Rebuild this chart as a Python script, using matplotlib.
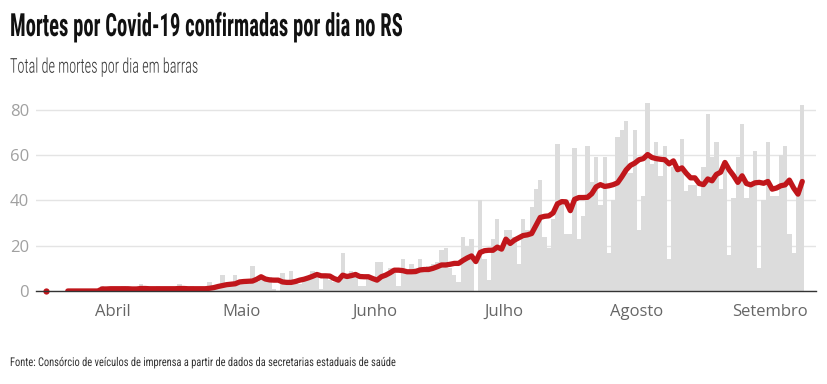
import numpy as np
import pandas as pd
import matplotlib
matplotlib.use("Agg")
import matplotlib.pyplot as plt
import matplotlib.dates as mdates
import matplotlib.font_manager as fm
from matplotlib.patheffects import AbstractPathEffect
from matplotlib.transforms import Affine2D

# ---------------- data ----------------
start_date = "2020-03-16"
daily_deaths = [
    0, 0, 0, 0, 0, 0, 0, 0, 0,
    1, 0, 1, 0, 2, 1, 1,
    1, 0, 2, 1, 0, 1, 3, 1, 0, 1,
    2, 1, 0, 1, 1, 3, 1, 0, 2, 1,
    1, 0, 4, 1, 2, 7, 3, 2, 7, 4,
    5, 3, 11, 4, 6, 5, 6, 1, 0, 8,
    3, 9, 4, 3, 5, 6, 9, 8, 1, 6,
    5, 4, 6, 17, 7, 9, 8, 2, 2, 7,
    6, 13, 13, 6, 10, 8, 2, 14, 9, 12,
    10, 14, 9, 11, 12, 13, 18, 19, 10, 7,
    4, 24, 20, 23, 0, 40, 14, 5, 23, 32,
    18, 27, 27, 24, 12, 32, 27, 37, 45, 49,
    24, 19, 32, 65, 40, 25, 25, 63, 23, 33,
    64, 48, 59, 38, 59, 17, 40, 68, 71, 75,
    52, 71, 27, 42, 83, 56, 66, 51, 64, 14,
    55, 55, 67, 44, 47, 47, 42, 55, 78, 59,
    66, 45, 54, 16, 41, 59, 74, 41, 47, 62,
    10, 40, 66, 42, 42, 60, 64, 25, 17, 43, 82,
]
nan = np.nan
moving_avg = [
    0, nan, nan, nan, nan,
    0, 0, 0, 0, 0, 0, 0, 0,
    0.9, 0.9, 1.0,
    1, 1, 1, 1, 0.9, 0.9, 1.1, 1.1, 1, 1,
    1, 1, 1, 1, 1, 1.1, 1.1, 1, 1, 1,
    1, 1, 1.2,
    1.5, 2.0, 2.4, 2.8, 3.0, 3.2, 4.0,
    4.2, 4.3, 4.4, 5.2, 6.3, 5.3, 4.9, 4.8, 4.8, 4.0,
    3.8, 3.8, 4.2, 4.8, 5.2, 5.8, 6.5, 7.3, 6.7, 6.7,
    6.6, 5.5, 4.8, 7.0, 6.4, 6.8, 7.3, 6.4, 6.3, 6.3,
    5.5, 4.8, 6.3, 7.0, 8.0, 9.2, 9.2, 9.0, 8.5, 8.5,
    8.6, 9.3, 9.5, 9.5, 10.0, 10.7, 11.5, 11.5, 11.8, 12.2,
    12.2, 13.5, 14.6, 15.5, 13.0, 17.0, 17.8, 18.0, 18.0, 19.4,
    18.5, 22.9, 21.0, 22.5, 23.5, 24.5, 24.8, 25.4, 29.0, 32.5,
    33.0, 33.2, 34.5, 38.5, 39.5, 39.4, 35.5, 40.5, 41.3, 41.3,
    41.4, 43.0, 46.0, 47.0, 46.2, 46.5, 47.0, 47.8, 50.5, 53.5,
    55.5, 56.5, 58.0, 58.5, 60.3, 59.0, 58.5, 58.2, 58.0, 56.2,
    57.5, 53.6, 54.4, 52.0, 50.0, 50.0, 47.5, 47.0, 49.5, 48.7,
    51.5, 52.5, 56.8, 53.5, 51.0, 48.0, 50.9, 47.5, 46.9, 47.8,
    48.0, 47.6, 48.4, 45.0, 45.5, 46.5, 46.9, 49.0, 45.5, 42.8, 48.4,
]
month_ticks = ["2020-04-01", "2020-05-01", "2020-06-01", "2020-07-01", "2020-08-01", "2020-09-01"]
month_labels = ["Abril", "Maio", "Junho", "Julho", "Agosto", "Setembro"]
y_ticks = [0, 20, 40, 60, 80]

title = "Mortes por Covid-19 confirmadas por dia no RS"
subtitle = "Total de mortes por dia em barras"
source = "Fonte: Consórcio de veículos de imprensa a partir de dados da secretarias estaduais de saúde"

# ---------------- fonts ----------------
names = {f.name for f in fm.fontManager.ttflist}
def pick(cands, default="DejaVu Sans"):
    for c in cands:
        if c in names:
            return c
    return default

narrow = pick(["Roboto Condensed", "Open Sans Condensed", "Liberation Sans Narrow", "Open Sans"])
regular = pick(["Open Sans", "Noto Sans", "Lato"])
light_weights = {f.weight for f in fm.fontManager.ttflist if f.name == narrow}
light = 300 if any(isinstance(w, int) and w <= 300 for w in light_weights) else "normal"


class Squeeze(AbstractPathEffect):
    """Horizontally condense rendered text about a display x position."""
    def __init__(self, sx, x0):
        super().__init__()
        self.sx = sx
        self.x0 = x0

    def draw_path(self, renderer, gc, tpath, affine, rgbFace=None):
        aff = affine + Affine2D().translate(-self.x0, 0).scale(self.sx, 1).translate(self.x0, 0)
        renderer.draw_path(gc, tpath, aff, rgbFace)


# ---------------- figure ----------------
W, H = 827, 384
DPI = 100
fig = plt.figure(figsize=(W / DPI, H / DPI), dpi=DPI)
fig.patch.set_facecolor("white")

ax_left, ax_right, ax_top, ax_bot = 36, 816, 100, 291
ax = fig.add_axes([ax_left / W, 1 - ax_bot / H, (ax_right - ax_left) / W, (ax_bot - ax_top) / H])

dates = pd.date_range(start_date, periods=len(daily_deaths), freq="D")
xc = mdates.date2num(dates) + 0.5

ax.bar(xc, daily_deaths, width=1.0, color="#dcdcdc", edgecolor="none", zorder=2)

avg = np.array(moving_avg, dtype=float)
ax.plot(xc, avg, color="#c0161b", lw=3.8, solid_capstyle="round", solid_joinstyle="round", zorder=4)
ax.plot(xc[:1], avg[:1], "o", color="#c0161b", ms=4.5, mec="none", zorder=5, clip_on=False)

ref = mdates.date2num(pd.Timestamp("2020-04-01"))
ax.set_xlim(ref - 17.9, ref + 163.7)
ax.set_ylim(0, 84.4)

ax.set_yticks(y_ticks)
ax.set_yticklabels([str(v) for v in y_ticks])
ax.set_xticks(mdates.date2num(pd.to_datetime(month_ticks)))
ax.set_xticklabels(month_labels)

for s in ["top", "right", "left"]:
    ax.spines[s].set_visible(False)
ax.spines["bottom"].set_color("#333333")
ax.spines["bottom"].set_linewidth(1.0)
ax.spines["bottom"].set_zorder(6)

ax.grid(axis="y", color="#e4e4e4", lw=1.0, zorder=0)
ax.set_axisbelow(True)
ax.tick_params(axis="y", length=0, pad=5, labelsize=12, labelcolor="#a0a0a0")
ax.tick_params(axis="x", length=0, pad=9, labelsize=12, labelcolor="#666666")
for lab in ax.get_xticklabels() + ax.get_yticklabels():
    lab.set_fontfamily(regular)

# header/footer: font size from cap height, then condensed to reference width
specs = [
    # text, baseline px, cap height px, target width px, weight, color
    (title, 36, 22.7, 392, "bold", "#111111"),
    (subtitle, 72.7, 14.5, 188, light, "#333333"),
    (source, 366, 8.6, 387, "normal", "#333333"),
]
texts = []
for txt, base, cap, tw, wt, col in specs:
    size_pt = cap / 0.711 * 72 / DPI
    t = fig.text(10 / W, 1 - base / H, txt, fontsize=size_pt, fontweight=wt, family=narrow,
                 color=col, va="baseline", ha="left")
    texts.append((t, tw))

fig.canvas.draw()
r = fig.canvas.get_renderer()
for t, tw in texts:
    w = t.get_window_extent(r).width
    sx = min(1.0, tw / w)
    if sx < 1.0:
        t.set_path_effects([Squeeze(sx, 10.0)])
    else:
        t.set_fontsize(t.get_fontsize() * tw / w)

fig.savefig("out.png", dpi=DPI, facecolor="white")
